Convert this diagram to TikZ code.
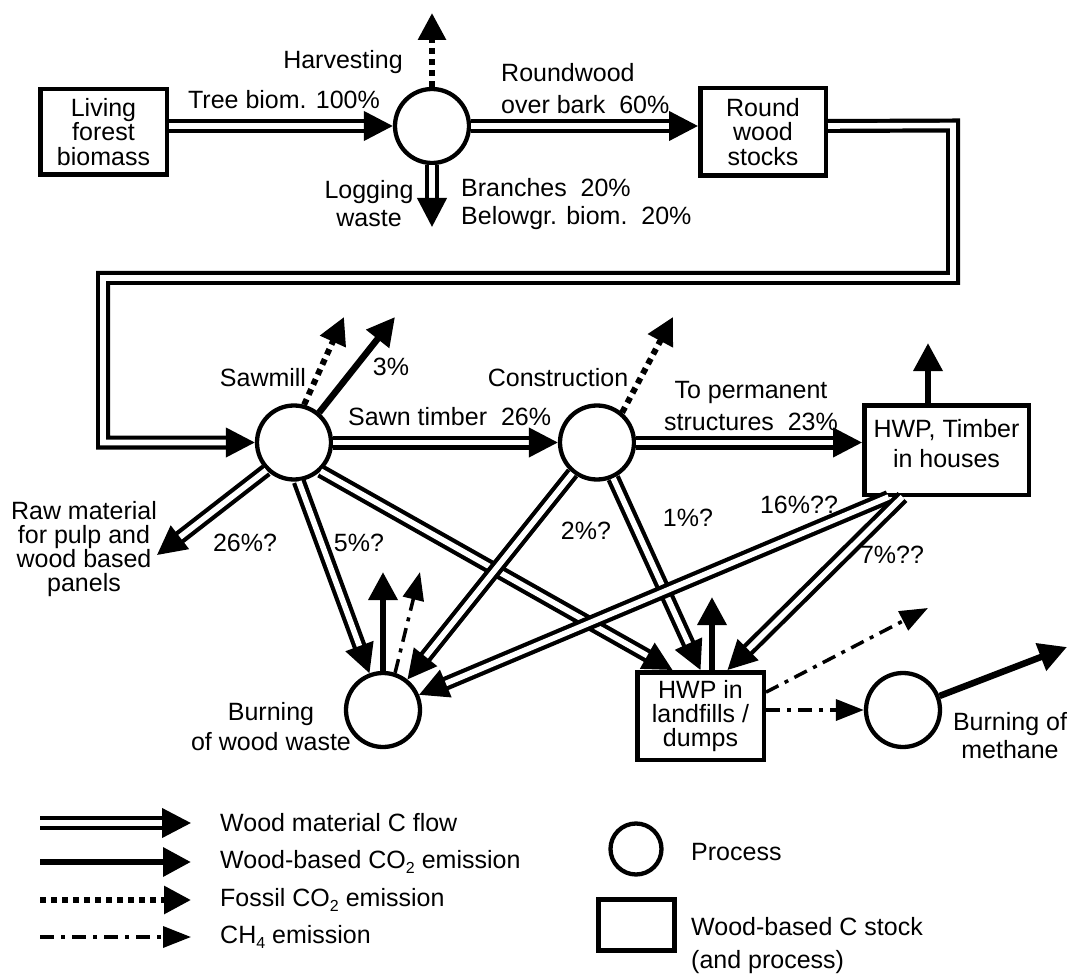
\documentclass[tikz,border=0pt]{standalone}
\usepackage{fontspec}
\setmainfont{Liberation Sans}
\usetikzlibrary{arrows.meta,calc}
\newcommand{\lbfont}{\fontsize{25}{25}\selectfont}
\newcommand{\subsc}[1]{\raisebox{-0.35ex}{\fontsize{16}{16}\selectfont #1}}
\newcommand{\dsp}{\hspace{0.556em}}

\begin{document}
\begin{tikzpicture}[x=1pt,y=-1pt,
  every node/.style={font=\lbfont, inner sep=0pt},
  proc/.style={circle, draw, line width=4.3pt, minimum size=74pt, inner sep=0pt},
  stock/.style={rectangle, draw, line width=4.5pt, align=center},
  lbl/.style={align=center},
  lbll/.style={align=left, anchor=west},
  flow/.style={line width=4.2pt, double, double distance=5.6pt, line join=miter,
    -{Triangle[length=29pt,width=29pt]}},
  co2/.style={line width=6.5pt, -{Triangle[length=28pt,width=28pt]}},
  fossil/.style={line width=6pt, dash pattern=on 6pt off 5pt, -{Triangle[length=27pt,width=27pt]}},
  ch4/.style={line width=3.5pt, dash pattern=on 14pt off 7pt on 4pt off 7pt,
    -{Triangle[length=28pt,width=21pt]}},
]
\useasboundingbox (0,0) rectangle (1071,976);

% ---- stocks and processes ----
\node[stock, minimum width=126.5pt, minimum height=85.5pt] (living) at (103.5,132)
  {Living\\[-0.5pt]forest\\[-0.5pt]biomass};
\node[proc] (harvest) at (432,126) {};
\node[stock, minimum width=125.5pt, minimum height=87.5pt] (roundwood) at (763,132)
  {Round\\[-0.5pt]wood\\[-0.5pt]stocks};
\node[proc] (sawmill) at (294,442.5) {};
\node[proc] (construction) at (597,442.5) {};
\node[stock, minimum width=164.5pt, minimum height=89.5pt] (houses) at (946.5,450)
  {HWP, Timber\\[5pt]in houses\\[-12pt]};
\node[proc] (burning) at (383,710) {};
\node[stock, minimum width=126.5pt, minimum height=87.5pt] (landfill) at (700.5,716)
  {HWP in\\[-1pt]landfills /\\[-1pt]dumps};
\node[proc] (methane) at (903,710) {};

% ---- free ends of connectors ----
\coordinate (harvUp) at (432,13);
\coordinate (logTip) at (432,227);
\coordinate (r1) at (953,125.5);
\coordinate (r2) at (953,278);
\coordinate (r3) at (103,278);
\coordinate (r4) at (103,442.5);
\coordinate (sawDot) at (344,317);
\coordinate (sawCO2) at (395,317);
\coordinate (conDot) at (673,317);
\coordinate (houseUp) at (928,343);
\coordinate (rawTip) at (157,555);
\coordinate (landUp) at (712,597);
\coordinate (burnUp) at (383,572);
\coordinate (burnCH4) at (420,572);
\coordinate (landCH4) at (928,608);
\coordinate (methTip) at (1067,647);

% ---- harvesting ----
\draw[flow] (living.east |- harvest.west) -- (harvest.west);
\draw[flow] (harvest.east) -- (roundwood.west |- harvest.east);
\draw[fossil] (harvest.north) -- (harvUp);
\draw[flow] (harvest.south) -- (logTip);

% ---- round wood to the sawmill ----
\draw[flow] (roundwood.east |- harvest.east) -- (r1) -- (r2) -- (r3) -- (r4) -- (sawmill.west);

% ---- sawmill and construction ----
\draw[flow] (sawmill.east) -- (construction.west);
\draw[flow] (construction.east) -- (houses.west |- construction.east);
\draw[fossil] (sawmill.75) -- (sawDot);
\draw[co2] (sawmill.50) -- (sawCO2);
\draw[fossil] (construction.50) -- (conDot);
\draw[co2] (houseUp |- houses.north) -- (houseUp);
\draw[flow] (sawmill.225) -- (rawTip);

% ---- flows to waste burning and landfills ----
\draw[flow] (sawmill.-83) -- (burning);
\draw[flow] (sawmill.-47) -- ($(landfill.north)+(-28,0)$);
\draw[flow] (construction) -- (burning);
\draw[flow] (construction) -- (landfill.north);
\draw[flow] ($(houses.south)+(-58,0)$) -- (burning);
\draw[flow] ($(houses.south)+(-44,0)$) -- ($(landfill.north)+(27,0)$);

% ---- emissions ----
\draw[co2] (burning.north) -- (burnUp);
\draw[ch4] (burning.72) -- (burnCH4);
\draw[co2] (landUp |- landfill.north) -- (landUp);
\draw[ch4] (landfill.20) -- (landCH4);
\draw[ch4] (landfill.east |- methane.west) -- (methane.west);
\draw[co2] (methane) -- (methTip);

% ---- labels ----
\node[lbl] (tHarv) at (343,62) {Harvesting};
\node[lbl] (tTree) at (284,100) {Tree biom. 100\%};
\node[lbl] (tLog) at (369,204) {Logging\\[3pt]waste};
\node[lbll] (tBranch) at (461,204) {Branches\dsp 20\%\\[3pt]Belowgr. biom.\dsp 20\%};
\node[lbll] (tRound) at (501,89) {Roundwood\\[7pt]over bark\dsp 60\%};
\node[lbl] (tSaw) at (263,378) {Sawmill};
\node[lbl] (tThree) at (391,367) {3\%};
\node[lbll] (tSawn) at (348,417) {Sawn timber\dsp 26\%};
\node[lbl] (tCons) at (558,378) {Construction};
\node[lbl] (tPerm) at (751,406) {To permanent\\[7pt]structures\dsp 23\%};
\node[lbl] (tRaw) at (84,549) {Raw material\\[-1pt]for pulp and\\[-1pt]wood based\\[-1pt]panels};
\node[lbl] (tP26) at (245,543) {26\%?};
\node[lbl] (tP5) at (359,543) {5\%?};
\node[lbl] (tP2) at (586,531) {2\%?};
\node[lbl] (tP1) at (688,518) {1\%?};
\node[lbl] (tP16) at (799,505) {16\%??};
\node[lbl] (tP7) at (892,555) {7\%??};
\node[lbl] (tBurn) at (271,727) {Burning\\[5pt]of wood waste};
\node[lbl] (tMeth) at (1010,736) {Burning of\\[3pt]methane};

% ---- legend ----
\coordinate (la1) at (40,823);  \coordinate (lb1) at (191,823);
\coordinate (la2) at (40,862);  \coordinate (lb2) at (191,862);
\coordinate (la3) at (40,900);  \coordinate (lb3) at (191,900);
\coordinate (la4) at (40,937);  \coordinate (lb4) at (191,937);
\draw[flow] (la1) -- (lb1);
\draw[co2] (la2) -- (lb2);
\draw[fossil] (la3) -- (lb3);
\draw[ch4] (la4) -- (lb4);
\node[lbll] (lt1) at (220,823) {Wood material C flow};
\node[lbll] (lt2) at (220,862) {Wood-based CO\subsc{2} emission};
\node[lbll] (lt3) at (220,900) {Fossil CO\subsc{2} emission};
\node[lbll] (lt4) at (220,937) {CH\subsc{4} emission};
\node[proc, minimum size=51pt] (legProc) at (636,849) {};
\node[stock, line width=5pt, minimum width=76pt, minimum height=51pt] (legStock) at (636.5,925) {};
\node[lbll] (lt5) at (691,852) {Process};
\node[lbll] (lt6) at (691,927) {Wood-based C stock};
\node[lbll] (lt7) at (691,962) {(and process)};
\end{tikzpicture}
\end{document}
